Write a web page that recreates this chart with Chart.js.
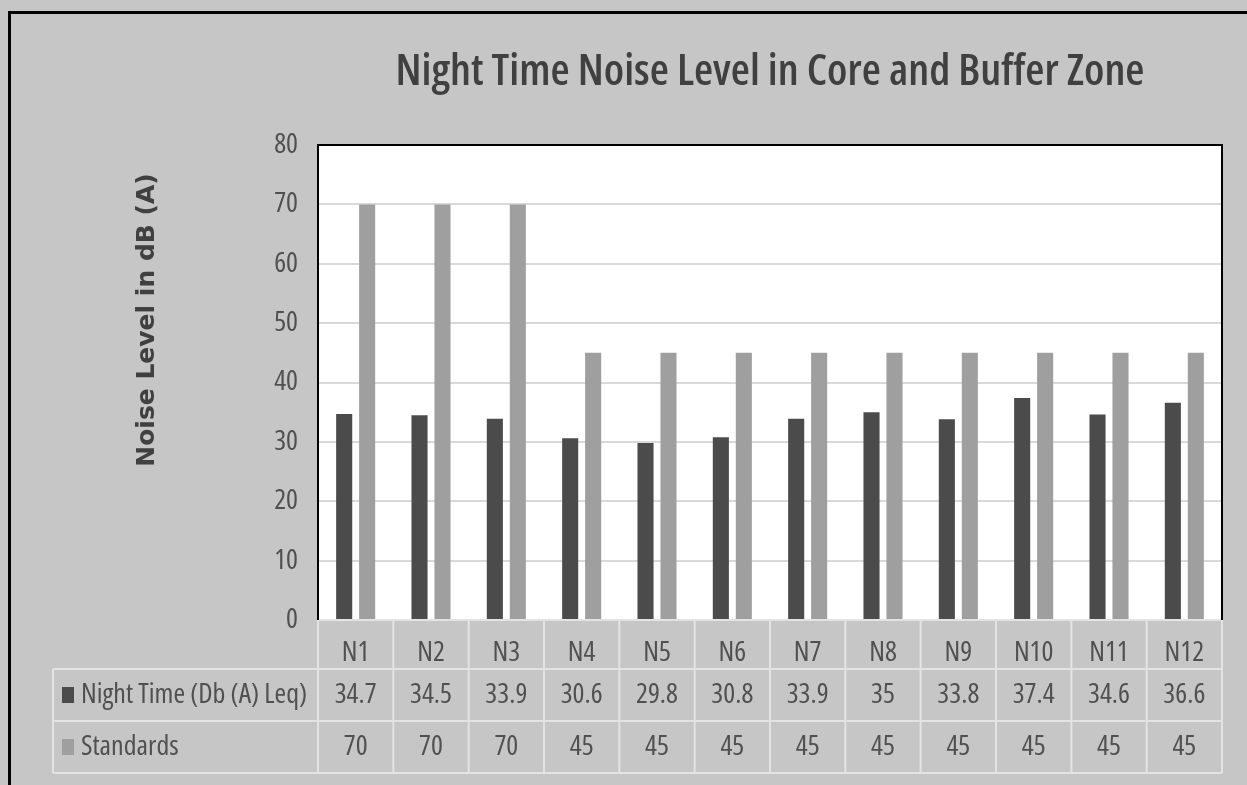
<!DOCTYPE html>
<html>
<head>
<meta charset="utf-8">
<title>Night Time Noise Level in Core and Buffer Zone</title>
<script src="https://cdn.jsdelivr.net/npm/chart.js@4.4.1/dist/chart.umd.min.js"></script>
<style>
  html, body { margin: 0; padding: 0; background: #c6c6c6; }
  #wrap { width: 1247px; height: 785px; position: relative; }
</style>
</head>
<body>
<div id="wrap"><canvas id="chart" width="1247" height="785"></canvas></div>
<script>
// Monitoring stations
const categories = ['N1', 'N2', 'N3', 'N4', 'N5', 'N6', 'N7', 'N8', 'N9', 'N10', 'N11', 'N12'];
// Measured night time level, dB(A) Leq
const nightTime = [34.7, 34.5, 33.9, 30.6, 29.8, 30.8, 33.9, 35, 33.8, 37.4, 34.6, 36.6];
// Permitted night time limit
const standards = [70, 70, 70, 45, 45, 45, 45, 45, 45, 45, 45, 45];
const seriesNames = ['Night Time (Db (A) Leq)', 'Standards'];
const yTicks = [0, 10, 20, 30, 40, 50, 60, 70, 80];
const yAxisTitle = 'Noise Level in dB (A)';

const DARK = '#4b4b4b';
const LIGHT = '#9f9f9f';
const TEXT = '#505050';
const TABLE_LINE = '#e3e3e3';
const FAMILY = '"Open Sans", sans-serif';
const BODY_FONT = 'condensed 28px ' + FAMILY;

// Backgrounds: grey canvas, white plot area
const backdrop = {
  id: 'backdrop',
  beforeDraw(chart) {
    const { ctx, chartArea: a } = chart;
    ctx.save();
    ctx.fillStyle = '#c6c6c6';
    ctx.fillRect(0, 0, chart.width, chart.height);
    ctx.fillStyle = '#ffffff';
    ctx.fillRect(a.left, a.top, a.right - a.left, a.bottom - a.top);
    ctx.restore();
  }
};

// Data table under the plot, axis title, plot frame and outer border
const dataTable = {
  id: 'dataTable',
  afterDraw(chart) {
    const { ctx, chartArea: a, scales: { x } } = chart;
    const colW = (a.right - a.left) / categories.length;
    const rowTop = a.bottom;
    const rowH = [49, 52, 52];
    const r1 = rowTop + rowH[0];
    const r2 = r1 + rowH[1];
    const r3 = r2 + rowH[2];
    const headLeft = 53;

    ctx.save();
    ctx.strokeStyle = TABLE_LINE;
    ctx.lineWidth = 2;
    ctx.beginPath();
    // horizontal rules
    ctx.moveTo(a.left, rowTop); ctx.lineTo(a.right, rowTop);
    [r1, r2, r3].forEach(y => { ctx.moveTo(headLeft, y); ctx.lineTo(a.right, y); });
    // vertical rules
    ctx.moveTo(headLeft, r1); ctx.lineTo(headLeft, r3);
    for (let i = 0; i <= categories.length; i++) {
      const xx = a.left + i * colW;
      ctx.moveTo(xx, rowTop); ctx.lineTo(xx, r3);
    }
    ctx.stroke();

    // values
    ctx.fillStyle = TEXT;
    ctx.font = BODY_FONT;
    ctx.textAlign = 'center';
    ctx.textBaseline = 'middle';
    const rows = [nightTime, standards];
    const mids = [(r1 + r2) / 2, (r2 + r3) / 2];
    rows.forEach((vals, ri) => {
      vals.forEach((v, i) => {
        ctx.fillText(String(v), x.getPixelForValue(i), mids[ri]);
      });
    });

    // row headers with legend keys
    const keys = [DARK, LIGHT];
    ctx.textAlign = 'left';
    seriesNames.forEach((name, ri) => {
      ctx.fillStyle = keys[ri];
      ctx.fillRect(62, mids[ri] - 8, 12, 16);
      ctx.fillStyle = TEXT;
      ctx.fillText(name, 81, mids[ri]);
    });

    // vertical axis title
    ctx.save();
    ctx.translate(147, 320);
    ctx.rotate(-Math.PI / 2);
    ctx.font = 'bold 25px "DejaVu Sans", sans-serif';
    ctx.fillStyle = '#404040';
    ctx.textAlign = 'center';
    ctx.fillText(yAxisTitle, 0, 0);
    ctx.restore();

    // plot frame: left, top, right
    ctx.strokeStyle = '#000000';
    ctx.lineWidth = 2;
    ctx.beginPath();
    ctx.moveTo(a.left, a.bottom);
    ctx.lineTo(a.left, a.top);
    ctx.lineTo(a.right, a.top);
    ctx.lineTo(a.right, a.bottom);
    ctx.stroke();

    // outer border
    ctx.lineWidth = 3;
    ctx.beginPath();
    ctx.moveTo(9.5, chart.height);
    ctx.lineTo(9.5, 12.5);
    ctx.lineTo(chart.width, 12.5);
    ctx.stroke();
    ctx.restore();
  }
};

new Chart(document.getElementById('chart'), {
  type: 'bar',
  data: {
    labels: categories,
    datasets: [
      { label: seriesNames[0], data: nightTime, backgroundColor: DARK, borderWidth: 0 },
      { label: seriesNames[1], data: standards, backgroundColor: LIGHT, borderWidth: 0 }
    ]
  },
  options: {
    responsive: false,
    animation: false,
    devicePixelRatio: 1,
    categoryPercentage: 0.61,
    barPercentage: 0.70,
    layout: { padding: { left: 129, top: 12, right: 25, bottom: 0 } },
    plugins: {
      legend: { display: false },
      tooltip: { enabled: false },
      title: {
        display: true,
        fullSize: false,
        text: 'Night Time Noise Level in Core and Buffer Zone',
        color: '#404040',
        font: { family: FAMILY, size: 44, weight: '600 condensed' },
        padding: { top: 33.6, bottom: 46.6 }
      }
    },
    scales: {
      x: {
        grid: { display: false },
        border: { display: false },
        ticks: { color: TEXT, font: { family: FAMILY, size: 28, weight: 'condensed' }, padding: 8, maxRotation: 0 },
        afterFit(scale) { scale.height = 165; }
      },
      y: {
        min: 0,
        max: 80,
        afterBuildTicks(scale) { scale.ticks = yTicks.map(v => ({ value: v })); },
        ticks: { color: TEXT, font: { family: FAMILY, size: 28, weight: 'condensed' }, padding: 20 },
        grid: { color: '#d9d9d9', lineWidth: 2, drawTicks: false },
        border: { display: false },
        afterFit(scale) { scale.width = 189; }
      }
    }
  },
  plugins: [backdrop, dataTable]
});
</script>
</body>
</html>
